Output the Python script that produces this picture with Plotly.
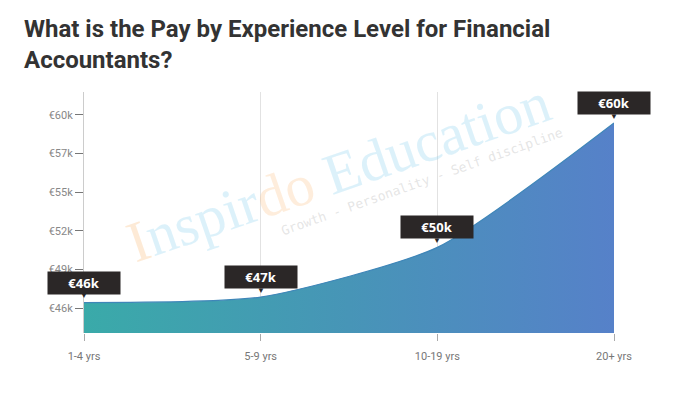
import plotly.graph_objects as go

# ---- data ----
categories = ["1-4 yrs", "5-9 yrs", "10-19 yrs", "20+ yrs"]
salaries_k = [46.6, 47.0, 50.6, 59.6]
value_labels = ["€46k", "€47k", "€50k", "€60k"]
ytick_vals = [46.2, 49.0, 51.8, 54.6, 57.4, 60.2]
ytick_text = ["€46k", "€49k", "€52k", "€55k", "€57k", "€60k"]

W, H = 688, 396
ML, MR, MT, MB = 84, 74, 92, 63
PW, PH = W - ML - MR, H - MT - MB


def px_to_paper(px, py):
    return (px - ML) / PW, (H - MB - py) / PH


fig = go.Figure()
fig.add_trace(go.Scatter(
    x=categories, y=salaries_k, mode="lines",
    line=dict(shape="spline", smoothing=0.6, color="#3f86b8", width=1.2),
    fill="tozeroy",
    fillgradient=dict(type="horizontal",
                      colorscale=[[0, "#3aaaa9"], [0.5, "#4795b7"], [1, "#5681c9"]]),
    hoverinfo="skip", showlegend=False,
))

ann = []
# title
tx, ty = px_to_paper(22, 13)
ann.append(dict(
    xref="paper", yref="paper", x=tx, y=ty, xanchor="left", yanchor="top",
    align="left", showarrow=False,
    text="<b>What is the Pay by Experience Level for Financial<br>Accountants?</b>",
    font=dict(family="Roboto", size=24, color="#333333"),
))
# watermark
wx, wy = px_to_paper(338, 172)
ann.append(dict(
    xref="paper", yref="paper", x=wx, y=wy, xanchor="center", yanchor="middle",
    showarrow=False,
    text="<span style='color:rgba(250,185,120,0.30)'>I</span>"
         "<span style='color:rgba(140,210,240,0.30)'>nspir</span>"
         "<span style='color:rgba(250,185,120,0.26)'>do</span> "
         "<span style='color:rgba(140,210,240,0.30)'>Education</span>",
    textangle=-19, font=dict(family="Liberation Serif", size=58),
))
sx, sy = px_to_paper(422, 181)
ann.append(dict(
    xref="paper", yref="paper", x=sx, y=sy, xanchor="center", yanchor="middle",
    showarrow=False,
    text="Growth - Personality - Self discipline",
    textangle=-19.5, font=dict(family="DejaVu Sans Mono", size=13, color="rgba(190,190,190,0.40)"),
))
for c, v, t in zip(categories, salaries_k, value_labels):
    ann.append(dict(x=c, y=v, xref="x", yref="y", showarrow=False, text="▼",
                    yshift=7, font=dict(size=8, color="#2b2727")))
    ann.append(dict(x=c, y=v, xref="x", yref="y", showarrow=False,
                    text="<b>" + t + "</b>", yshift=20, width=70, height=20,
                    borderpad=1, bgcolor="#2b2727",
                    font=dict(family="Open Sans", size=13, color="#ffffff")))

fig.update_layout(
    width=W, height=H, autosize=False,
    margin=dict(l=ML, r=MR, t=MT, b=MB),
    paper_bgcolor="white", plot_bgcolor="white",
    annotations=ann,
    font=dict(family="Roboto"),
)
fig.update_xaxes(
    type="category", range=[0, 3], showgrid=True, gridcolor="#e2e2e2", gridwidth=1,
    showline=False, zeroline=False, ticks="outside", ticklen=7, tickcolor="#aaaaaa",
    ticklabelstandoff=6,
    tickfont=dict(family="Roboto", size=11, color="#777777"), fixedrange=True,
)
fig.update_yaxes(
    range=[44.4, 61.85], tickvals=ytick_vals, ticktext=ytick_text,
    showgrid=False, zeroline=False, showline=True, linecolor="#cccccc", linewidth=1,
    ticks="outside", ticklen=8, tickcolor="#777777",
    tickfont=dict(family="Roboto", size=11, color="#888888"), fixedrange=True,
)
fig.write_html("out.html")
